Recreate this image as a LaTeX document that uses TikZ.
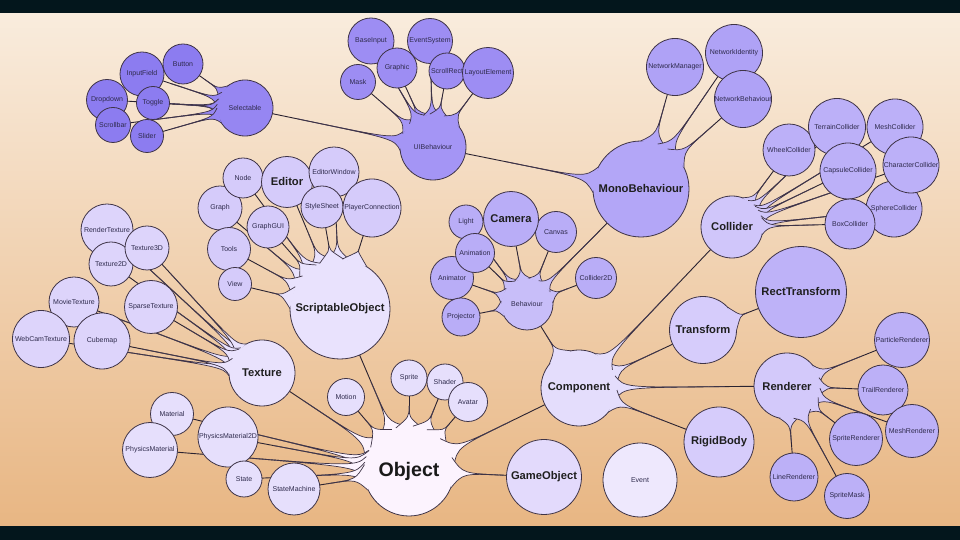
\documentclass[tikz,border=0pt]{standalone}
\usepackage{fontspec}
\setmainfont{Liberation Sans}
\usetikzlibrary{calc}
\pgfdeclarelayer{back}
\pgfdeclarelayer{top}
\pgfsetlayers{back,main,top}
\definecolor{bgtop}{HTML}{F9ECDD}
\definecolor{bgbot}{HTML}{E8B683}
\definecolor{bar}{HTML}{03161C}
\definecolor{edge}{HTML}{3E3346}
\definecolor{lnc}{HTML}{2A2230}
\definecolor{lbl}{HTML}{2E2A4C}
\definecolor{cUI}{HTML}{8C7CF0}
\definecolor{cSel}{HTML}{9686F2}
\definecolor{cUIB}{HTML}{A495F5}
\definecolor{cUIc}{HTML}{9D8DF3}
\definecolor{cMono}{HTML}{B3A6F7}
\definecolor{cNet}{HTML}{AFA2F6}
\definecolor{cCol}{HTML}{D0C6FA}
\definecolor{cColc}{HTML}{BCB0F8}
\definecolor{cBeh}{HTML}{C8BEF9}
\definecolor{cBehc}{HTML}{B9ADF7}
\definecolor{cComp}{HTML}{E4DDFC}
\definecolor{cTr}{HTML}{D6CCFB}
\definecolor{cRect}{HTML}{BEB2F8}
\definecolor{cRen}{HTML}{D3C9FA}
\definecolor{cRenc}{HTML}{BCB0F7}
\definecolor{cRB}{HTML}{D6CCFB}
\definecolor{cObj}{HTML}{FCF3FE}
\definecolor{cObjc}{HTML}{E6DFFC}
\definecolor{cTex}{HTML}{E9E2FD}
\definecolor{cTexc}{HTML}{DDD4FB}
\definecolor{cSO}{HTML}{E9E2FD}
\definecolor{cSOc}{HTML}{D5CBFA}
\definecolor{cGO}{HTML}{E3DAFC}
\definecolor{cEv}{HTML}{EEE8FD}
% node: name, x, y (image px), radius, colour, style, text
\newcommand\Nd[7]{%
  \expandafter\xdef\csname R#1\endcsname{#4}%
  \expandafter\xdef\csname F#1\endcsname{#5}%
  \node[lab,#6,minimum size=#4*2pt] (#1) at (#2,540-#3) {#7};}
\newcommand\Cr[1]{%
  \edef\spfc{\csname F#1\endcsname}\edef\sprr{\csname R#1\endcsname}%
  \filldraw[circ,fill=\spfc] (#1.center) circle[radius=\sprr];}
\newcommand\Ln[2]{\draw[ln] (#1.center) -- (#2.center);}
\newcommand\Sp[4]{%
  \edef\spfc{\csname F#1\endcsname}\edef\sprr{\csname R#1\endcsname}%
  \fill[fill=\spfc] ($(#1.center)!\sprr*1pt!#3:(#2.center)$)
     .. controls ($(#1.center)!\sprr*1.2pt!(#2.center)$) .. ($(#1.center)!#4!(#2.center)$)
     .. controls ($(#1.center)!\sprr*1.2pt!(#2.center)$) .. ($(#1.center)!\sprr*1pt!-#3:(#2.center)$) -- cycle;
  \draw[sd] ($(#1.center)!\sprr*1pt!#3:(#2.center)$)
     .. controls ($(#1.center)!\sprr*1.2pt!(#2.center)$) .. ($(#1.center)!#4!(#2.center)$)
     .. controls ($(#1.center)!\sprr*1.2pt!(#2.center)$) .. ($(#1.center)!\sprr*1pt!-#3:(#2.center)$);}
\begin{document}
\begin{tikzpicture}[x=1pt,y=1pt,
  lab/.style={circle,inner sep=0pt,align=center,font=\fontsize{7}{8}\selectfont,text=lbl},
  big/.style={font=\bfseries\fontsize{11.2}{12}\selectfont,text=black!88},
  huge/.style={font=\bfseries\fontsize{19.6}{21}\selectfont,text=black!90},
  circ/.style={draw=edge,line width=0.8pt},
  ln/.style={draw=lnc,line width=0.9pt},
  sd/.style={draw=edge,line width=0.7pt}]
\useasboundingbox (0,0) rectangle (960,540);
\begin{pgfonlayer}{back}
  \shade[top color=bgtop,bottom color=bgbot] (0,13) rectangle (960,527);
  \fill[bar] (0,0) rectangle (960,13.5);
  \fill[bar] (0,526.5) rectangle (960,540);
\end{pgfonlayer}
\begin{pgfonlayer}{top}
\Nd{Button}{183}{64}{20}{cUI}{}{Button}
\Nd{InputField}{142}{74}{22}{cUI}{}{InputField}
\Nd{Dropdown}{107}{100}{20.5}{cUI}{}{Dropdown}
\Nd{Toggle}{153}{103}{16.5}{cUI}{}{Toggle}
\Nd{Scrollbar}{113}{125}{17.5}{cUI}{}{Scrollbar}
\Nd{Slider}{147}{136}{16.5}{cUI}{}{Slider}
\Nd{Selectable}{245}{108}{28}{cSel}{}{Selectable}
\Nd{BaseInput}{371}{41}{23}{cUIc}{}{BaseInput}
\Nd{EventSystem}{430}{41}{22.5}{cUIc}{}{EventSystem}
\Nd{Mask}{358}{82}{17.5}{cUIc}{}{Mask}
\Nd{Graphic}{397}{68}{20}{cUIc}{}{Graphic}
\Nd{ScrollRect}{447}{71}{18}{cUIc}{}{ScrollRect}
\Nd{LayoutElement}{488}{73}{25.5}{cUIc}{}{LayoutElement}
\Nd{UIBehaviour}{433}{147}{33}{cUIB}{}{UIBehaviour}
\Nd{MonoBehaviour}{641}{189}{48}{cMono}{big}{MonoBehaviour}
\Nd{NetworkManager}{675}{67}{28.5}{cNet}{}{NetworkManager}
\Nd{NetworkIdentity}{734}{53}{28.5}{cNet}{}{NetworkIdentity}
\Nd{NetworkBehaviour}{743}{99}{28.5}{cNet}{}{NetworkBehaviour}
\Nd{TerrainCollider}{837}{127}{28.5}{cColc}{}{TerrainCollider}
\Nd{MeshCollider}{895}{127}{28}{cColc}{}{MeshCollider}
\Nd{WheelCollider}{789}{150}{26}{cColc}{}{WheelCollider}
\Nd{CapsuleCollider}{848}{171}{28}{cColc}{}{CapsuleCollider}
\Nd{CharacterCollider}{911}{165}{28}{cColc}{}{CharacterCollider}
\Nd{SphereCollider}{894}{209}{28}{cColc}{}{SphereCollider}
\Nd{BoxCollider}{850}{224}{25}{cColc}{}{BoxCollider}
\Nd{Collider}{732}{227}{31}{cCol}{big}{Collider}
\Nd{RectTransform}{801}{292}{45.5}{cRect}{big}{RectTransform}
\Nd{Transform}{703}{330}{33.5}{cTr}{big}{Transform}
\Nd{ParticleRenderer}{902}{340}{27.5}{cRenc}{}{ParticleRenderer}
\Nd{Renderer}{787}{386}{33}{cRen}{big}{Renderer}
\Nd{TrailRenderer}{883}{390}{25}{cRenc}{}{TrailRenderer}
\Nd{MeshRenderer}{912}{431}{26.5}{cRenc}{}{MeshRenderer}
\Nd{SpriteRenderer}{856}{439}{26.5}{cRenc}{}{SpriteRenderer}
\Nd{LineRenderer}{794}{477}{24}{cRenc}{}{LineRenderer}
\Nd{SpriteMask}{847}{496}{22.5}{cRenc}{}{SpriteMask}
\Nd{RigidBody}{719}{442}{35}{cRB}{big}{RigidBody}
\Nd{Component}{579}{388}{38}{cComp}{big}{Component}
\Nd{Behaviour}{527}{304}{26}{cBeh}{}{Behaviour}
\Nd{Light}{466}{222}{17}{cBehc}{}{Light}
\Nd{Camera}{511}{219}{27.5}{cBehc}{big}{Camera}
\Nd{Canvas}{556}{232}{20.5}{cBehc}{}{Canvas}
\Nd{Animation}{475}{253}{19.5}{cBehc}{}{Animation}
\Nd{Animator}{452}{278}{21.5}{cBehc}{}{Animator}
\Nd{Projector}{461}{317}{19}{cBehc}{}{Projector}
\Nd{Collider2D}{596}{278}{20.5}{cBehc}{}{Collider2D}
\Nd{Node}{243}{178}{20}{cSOc}{}{Node}
\Nd{Editor}{287}{182}{25.5}{cSOc}{big}{Editor}
\Nd{EditorWindow}{334}{172}{25}{cSOc}{}{EditorWindow}
\Nd{Graph}{220}{208}{22}{cSOc}{}{Graph}
\Nd{StyleSheet}{322}{207}{21}{cSOc}{}{StyleSheet}
\Nd{PlayerConnection}{372}{208}{29}{cSOc}{}{PlayerConnection}
\Nd{GraphGUI}{268}{227}{21}{cSOc}{}{GraphGUI}
\Nd{Tools}{229}{249}{21.5}{cSOc}{}{Tools}
\Nd{View}{235}{284}{16.5}{cSOc}{}{View}
\Nd{ScriptableObject}{340}{309}{50}{cSO}{big}{ScriptableObject}
\Nd{RenderTexture}{107}{230}{26}{cTexc}{}{RenderTexture}
\Nd{Texture3D}{147}{248}{22}{cTexc}{}{Texture3D}
\Nd{Texture2D}{111}{264}{22}{cTexc}{}{Texture2D}
\Nd{MovieTexture}{74}{302}{25}{cTexc}{}{MovieTexture}
\Nd{SparseTexture}{151}{307}{26.5}{cTexc}{}{SparseTexture}
\Nd{WebCamTexture}{41}{339}{28.5}{cTexc}{}{WebCamTexture}
\Nd{Cubemap}{102}{341}{28}{cTexc}{}{Cubemap}
\Nd{Texture}{262}{373}{33}{cTex}{big}{Texture}
\Nd{Material}{172}{414}{21.5}{cObjc}{}{Material}
\Nd{PhysicsMaterial2D}{228}{437}{30}{cObjc}{}{PhysicsMaterial2D}
\Nd{PhysicsMaterial}{150}{450}{27.5}{cObjc}{}{PhysicsMaterial}
\Nd{State}{244}{479}{18}{cObjc}{}{State}
\Nd{StateMachine}{294}{489}{26}{cObjc}{}{StateMachine}
\Nd{Motion}{346}{397}{18.5}{cObjc}{}{Motion}
\Nd{Sprite}{409}{378}{18}{cObjc}{}{Sprite}
\Nd{Shader}{445}{382}{18}{cObjc}{}{Shader}
\Nd{Avatar}{468}{402}{19.5}{cObjc}{}{Avatar}
\Nd{Object}{409}{471}{45}{cObj}{huge}{Object}
\Nd{GameObject}{544}{477}{37.5}{cGO}{big}{GameObject}
\Nd{Event}{640}{480}{37}{cEv}{}{Event}
\end{pgfonlayer}
% connector lines
\foreach \a/\b in {Object/Texture,Object/ScriptableObject,Object/Motion,Object/Sprite,Object/Shader,Object/Avatar,Object/Component,Object/GameObject,Object/Material,Object/PhysicsMaterial2D,Object/PhysicsMaterial,Object/State,Object/StateMachine,
 Component/Behaviour,Component/Transform,Component/Renderer,Component/RigidBody,Component/Collider,
 Texture/RenderTexture,Texture/Texture3D,Texture/Texture2D,Texture/MovieTexture,Texture/SparseTexture,Texture/WebCamTexture,Texture/Cubemap,
 ScriptableObject/Editor,ScriptableObject/EditorWindow,ScriptableObject/Node,ScriptableObject/Graph,ScriptableObject/StyleSheet,ScriptableObject/PlayerConnection,ScriptableObject/GraphGUI,ScriptableObject/Tools,ScriptableObject/View,
 Behaviour/Light,Behaviour/Camera,Behaviour/Canvas,Behaviour/Animation,Behaviour/Animator,Behaviour/Projector,Behaviour/Collider2D,Behaviour/MonoBehaviour,
 MonoBehaviour/UIBehaviour,MonoBehaviour/NetworkManager,MonoBehaviour/NetworkIdentity,MonoBehaviour/NetworkBehaviour,
 UIBehaviour/Selectable,UIBehaviour/Mask,UIBehaviour/Graphic,UIBehaviour/BaseInput,UIBehaviour/EventSystem,UIBehaviour/ScrollRect,UIBehaviour/LayoutElement,
 Selectable/Button,Selectable/InputField,Selectable/Dropdown,Selectable/Toggle,Selectable/Scrollbar,Selectable/Slider,
 Collider/WheelCollider,Collider/TerrainCollider,Collider/MeshCollider,Collider/CapsuleCollider,Collider/CharacterCollider,Collider/SphereCollider,Collider/BoxCollider,
 Transform/RectTransform,
 Renderer/ParticleRenderer,Renderer/TrailRenderer,Renderer/MeshRenderer,Renderer/SpriteRenderer,Renderer/LineRenderer,Renderer/SpriteMask}
 {\Ln{\a}{\b}}
% Object hub
\Cr{Object}
\foreach \b/\h/\f in {Texture/20/0.72,ScriptableObject/20/0.55,Motion/18/0.7,Sprite/17/0.7,Shader/17/0.7,Avatar/17/0.68,Component/20/0.6,GameObject/20/0.7,Material/14/0.8,PhysicsMaterial2D/16/0.75,PhysicsMaterial/14/0.8,State/14/0.8,StateMachine/17/0.7}
 {\Sp{Object}{\b}{\h}{\f}}
% Component hub
\Cr{Component}
\foreach \b/\h/\f in {Behaviour/20/0.62,Transform/19/0.65,Renderer/18/0.7,RigidBody/18/0.6,Collider/18/0.65}
 {\Sp{Component}{\b}{\h}{\f}}
% Texture hub
\Cr{Texture}
\foreach \b/\h/\f in {RenderTexture/14/0.8,Texture3D/14/0.8,Texture2D/14/0.8,MovieTexture/14/0.8,SparseTexture/16/0.7,WebCamTexture/14/0.82,Cubemap/15/0.75}
 {\Sp{Texture}{\b}{\h}{\f}}
% ScriptableObject hub
\Cr{ScriptableObject}
\foreach \b/\h/\f in {Editor/15/0.6,EditorWindow/14/0.6,Node/13/0.65,Graph/13/0.65,StyleSheet/14/0.62,PlayerConnection/15/0.58,GraphGUI/13/0.65,Tools/13/0.65,View/13/0.65}
 {\Sp{ScriptableObject}{\b}{\h}{\f}}
% Behaviour hub
\Cr{Behaviour}
\foreach \b/\h/\f in {Light/17/0.6,Camera/18/0.55,Canvas/18/0.6,Animation/17/0.6,Animator/18/0.6,Projector/18/0.6,Collider2D/18/0.6,MonoBehaviour/18/0.62}
 {\Sp{Behaviour}{\b}{\h}{\f}}
% MonoBehaviour hub
\Cr{MonoBehaviour}
\foreach \b/\h/\f in {UIBehaviour/16/0.65,NetworkManager/16/0.7,NetworkIdentity/14/0.72,NetworkBehaviour/15/0.7}
 {\Sp{MonoBehaviour}{\b}{\h}{\f}}
% UIBehaviour hub
\Cr{UIBehaviour}
\foreach \b/\h/\f in {Selectable/18/0.72,Mask/17/0.7,Graphic/16/0.65,BaseInput/15/0.72,EventSystem/15/0.7,ScrollRect/16/0.65,LayoutElement/17/0.65}
 {\Sp{UIBehaviour}{\b}{\h}{\f}}
% Selectable hub
\Cr{Selectable}
\foreach \b/\h/\f in {Button/17/0.65,InputField/16/0.72,Dropdown/15/0.78,Toggle/16/0.75,Scrollbar/15/0.78,Slider/16/0.75}
 {\Sp{Selectable}{\b}{\h}{\f}}
% Collider hub
\Cr{Collider}
\foreach \b/\h/\f in {WheelCollider/17/0.65,TerrainCollider/15/0.7,MeshCollider/14/0.75,CapsuleCollider/16/0.7,CharacterCollider/14/0.78,SphereCollider/15/0.75,BoxCollider/16/0.7}
 {\Sp{Collider}{\b}{\h}{\f}}
% Transform hub
\Cr{Transform}
\Sp{Transform}{RectTransform}{22}{0.45}
% Renderer hub
\Cr{Renderer}
\foreach \b/\h/\f in {ParticleRenderer/17/0.65,TrailRenderer/17/0.6,MeshRenderer/16/0.65,SpriteRenderer/18/0.6,LineRenderer/18/0.62,SpriteMask/17/0.65}
 {\Sp{Renderer}{\b}{\h}{\f}}
% leaf circles
\foreach \n in {Dropdown,InputField,Button,Toggle,Scrollbar,Slider,
 BaseInput,Mask,Graphic,EventSystem,ScrollRect,LayoutElement,
 NetworkManager,NetworkIdentity,NetworkBehaviour,
 WheelCollider,TerrainCollider,MeshCollider,SphereCollider,CapsuleCollider,CharacterCollider,BoxCollider,
 RectTransform,ParticleRenderer,TrailRenderer,MeshRenderer,SpriteRenderer,LineRenderer,SpriteMask,RigidBody,
 Light,Canvas,Camera,Animator,Animation,Projector,Collider2D,
 Graph,Node,Editor,EditorWindow,StyleSheet,PlayerConnection,GraphGUI,Tools,View,
 RenderTexture,Texture2D,Texture3D,MovieTexture,WebCamTexture,Cubemap,SparseTexture,
 Material,PhysicsMaterial2D,PhysicsMaterial,State,StateMachine,Motion,Sprite,Shader,Avatar,
 GameObject,Event}
 {\Cr{\n}}
\end{tikzpicture}
\end{document}
